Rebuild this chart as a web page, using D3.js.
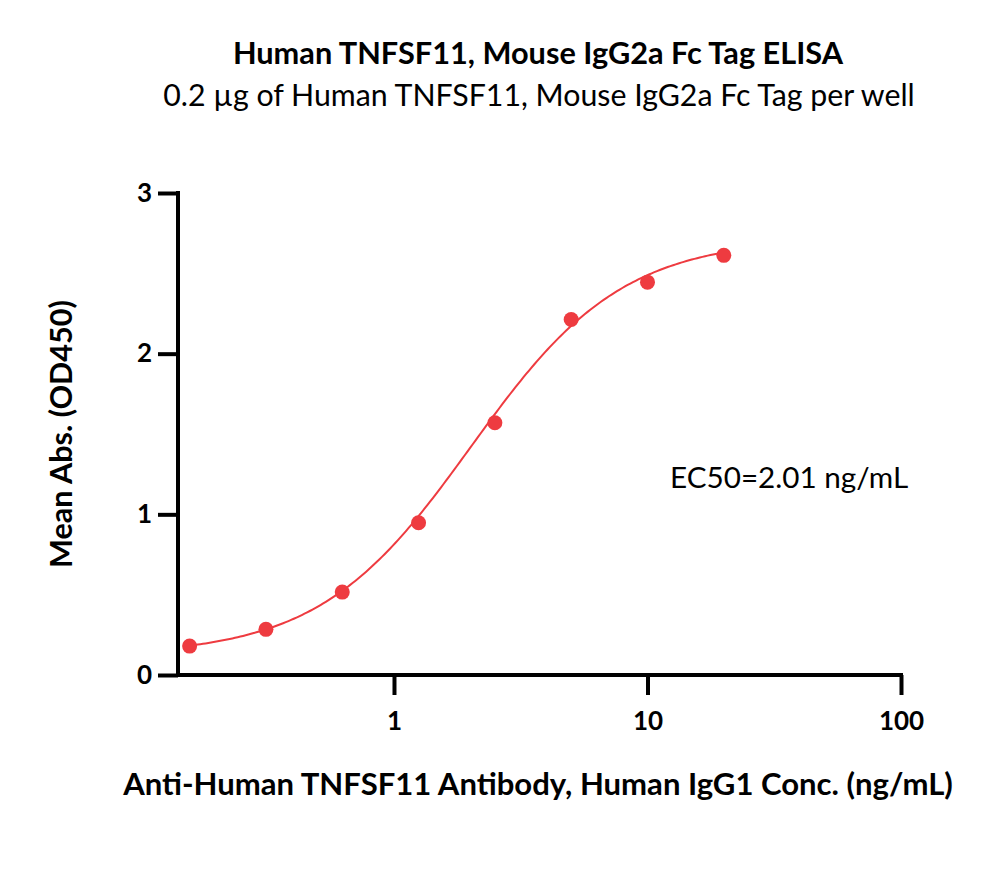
<!DOCTYPE html>
<html>
<head>
<meta charset="utf-8">
<script src="https://cdn.jsdelivr.net/npm/d3@7"></script>
<style>
  html, body { margin: 0; padding: 0; background: #fff; }
  svg { display: block; }
  text { font-family: Lato, "Open Sans", sans-serif; fill: #000; }
</style>
</head>
<body>
<svg id="chart" width="1000" height="880"></svg>
<script>
// ---- data ----
const concentrations = [0.15625, 0.3125, 0.625, 1.25, 2.5, 5, 10, 20];
const meanAbs = [0.180, 0.284, 0.516, 0.948, 1.570, 2.213, 2.445, 2.612];
const xTickValues = [1, 10, 100];
const xTickLabels = ["1", "10", "100"];
const yTickValues = [0, 1, 2, 3];
const yTickLabels = ["0", "1", "2", "3"];
// 4PL fit parameters
const fitBottom = 0.12, fitTop = 2.72, fitEC50 = 2.01, fitHill = 1.45;

const titleText = "Human TNFSF11, Mouse IgG2a Fc Tag ELISA";
const subtitleText = "0.2 \u00b5g of Human TNFSF11, Mouse IgG2a Fc Tag per well";
const xLabelText = "Anti-Human TNFSF11 Antibody, Human IgG1 Conc. (ng/mL)";
const yLabelText = "Mean Abs. (OD450)";
const ec50Text = "EC50=2.01 ng/mL";

const red = "#ee3b40";

const svg = d3.select("#chart");

// scales
const x = d3.scaleLog().domain([0.1406, 100]).range([178, 901]);
const y = d3.scaleLinear().domain([0, 3]).range([675, 193]);

// axes
const xAxis = d3.axisBottom(x).tickValues(xTickValues)
  .tickFormat((d, i) => xTickLabels[i]).tickSize(20).tickSizeOuter(0).tickPadding(17);
const yAxis = d3.axisLeft(y).tickValues(yTickValues)
  .tickFormat((d, i) => yTickLabels[i]).tickSize(20).tickSizeOuter(0).tickPadding(6);

const gx = svg.append("g").attr("transform", "translate(0,675)").call(xAxis);
const gy = svg.append("g").attr("transform", "translate(178,0)").call(yAxis);

[gx, gy].forEach(g => {
  g.select(".domain").attr("stroke", "#000").attr("stroke-width", 4);
  g.selectAll(".tick line").attr("stroke", "#000").attr("stroke-width", 4);
  g.selectAll(".tick text").attr("font-size", 26).attr("font-weight", "bold")
    .attr("font-family", "Lato, 'Open Sans', sans-serif").attr("fill", "#000");
});
gx.select(".domain").attr("d", `M${x.range()[0] - 2},0H${x.range()[1] + 2}`);
gy.select(".domain").attr("d", `M0,${y.range()[0] + 2}V${y.range()[1] - 2}`);

// fit curve
const logMin = Math.log10(concentrations[0]);
const logMax = Math.log10(concentrations[concentrations.length - 1]);
const curvePts = d3.range(0, 201).map(i => {
  const c = Math.pow(10, logMin + (logMax - logMin) * i / 200);
  const v = fitBottom + (fitTop - fitBottom) / (1 + Math.pow(fitEC50 / c, fitHill));
  return [c, v];
});
svg.append("path")
  .datum(curvePts)
  .attr("fill", "none")
  .attr("stroke", red)
  .attr("stroke-width", 2)
  .attr("d", d3.line().x(d => x(d[0])).y(d => y(d[1])));

// points
svg.append("g").selectAll("circle")
  .data(concentrations.map((c, i) => [c, meanAbs[i]]))
  .join("circle")
  .attr("cx", d => x(d[0]))
  .attr("cy", d => y(d[1]))
  .attr("r", 7.5)
  .attr("fill", red);

// text helper: fit to a target width
function fitText(sel, target) {
  let fs = parseFloat(sel.attr("font-size"));
  for (let k = 0; k < 3; k++) {
    const w = sel.node().getComputedTextLength();
    fs = fs * target / w;
    sel.attr("font-size", fs);
  }
}

const title = svg.append("text").attr("x", 538).attr("y", 64)
  .attr("text-anchor", "middle").attr("font-weight", "bold").attr("font-size", 24)
  .text(titleText);
fitText(title, 610);

const subtitle = svg.append("text").attr("x", 539).attr("y", 106)
  .attr("text-anchor", "middle").attr("font-size", 24)
  .text(subtitleText);
fitText(subtitle, 752);

const xlab = svg.append("text").attr("x", 538).attr("y", 795)
  .attr("text-anchor", "middle").attr("font-weight", "bold").attr("font-size", 24)
  .text(xLabelText);
fitText(xlab, 830);

const ylab = svg.append("text")
  .attr("transform", "translate(72,434) rotate(-90)")
  .attr("text-anchor", "middle").attr("font-weight", "bold").attr("font-size", 24)
  .text(yLabelText);
fitText(ylab, 268);

const ec = svg.append("text").attr("x", 670).attr("y", 488)
  .attr("font-size", 24)
  .text(ec50Text);
fitText(ec, 238);
</script>
</body>
</html>
